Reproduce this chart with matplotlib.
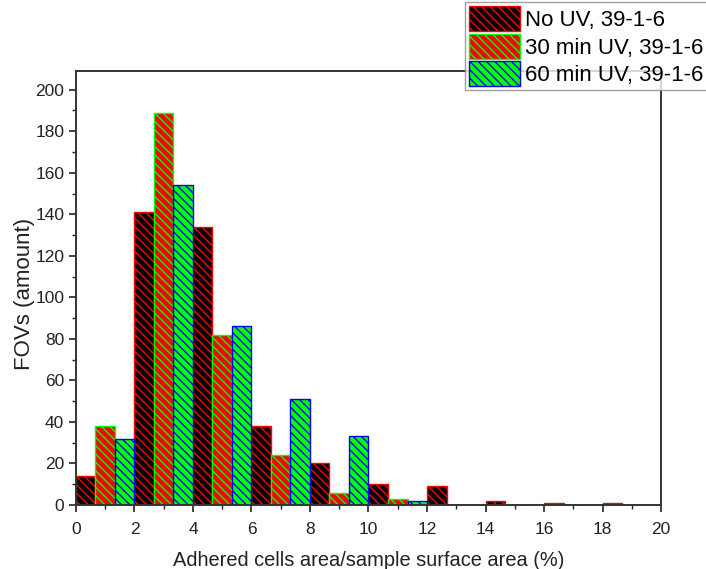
import matplotlib
matplotlib.use("Agg")
import matplotlib.pyplot as plt
import numpy as np
from matplotlib.ticker import MultipleLocator

plt.rcParams['font.family'] = ['Liberation Sans', 'DejaVu Sans']
plt.rcParams['hatch.linewidth'] = 1.0

bin_starts = [0, 2, 4, 6, 8, 10, 12, 14, 16, 18]
no_uv = [14, 141, 134, 38, 20, 10, 9, 2, 1, 1]
uv30 = [38, 189, 82, 24, 6, 3, 0, 0, 0, 0]
uv60 = [32, 154, 86, 51, 33, 2, 0, 0, 0, 0]
labels = ['No UV, 39-1-6', '30 min UV, 39-1-6', '60 min UV, 39-1-6']
faces = ['black', 'red', '#00ff00']
edges = ['red', '#00ff00', 'blue']

fig = plt.figure(figsize=(7.06, 5.69), dpi=100)
ax = fig.add_axes([0.1076, 0.1125, 0.8287, 0.7627])

w = 2/3
x = np.array(bin_starts, dtype=float)
handles = []
for i, (vals, fc, ec, lab) in enumerate(zip([no_uv, uv30, uv60], faces, edges, labels)):
    h = ax.bar(x + i*w, vals, width=w, align='edge', facecolor=fc, edgecolor=ec,
               hatch='\\\\\\\\', linewidth=1.0, label=lab)
    handles.append(h)

ax.set_xlim(0, 20)
ax.set_ylim(0, 209)
ax.xaxis.set_major_locator(MultipleLocator(2))
ax.xaxis.set_minor_locator(MultipleLocator(1))
ax.yaxis.set_major_locator(MultipleLocator(20))
ax.yaxis.set_minor_locator(MultipleLocator(10))
ax.tick_params(which='both', direction='out', top=False, right=False, labelsize=12.5, colors='#222222')
ax.tick_params(axis='x', which='major', pad=7)
ax.tick_params(which='major', length=5, width=1.2)
ax.tick_params(which='minor', length=3, width=1.0)
for s in ax.spines.values():
    s.set_linewidth(1.4)
    s.set_color('#333333')

ax.set_xlabel('Adhered cells area/sample surface area (%)', fontsize=14.4, color='#222222', labelpad=10)
ax.set_ylabel('FOVs (amount)', fontsize=16, color='#222222')
ax.yaxis.set_label_coords(-0.070, 0.487)

leg = fig.legend(handles=handles, labels=labels, loc='upper left', bbox_to_anchor=(0.659, 0.996),
                 fontsize=16, frameon=True, fancybox=False, edgecolor='#888888',
                 handlelength=2.3, handleheight=1.35, handletextpad=0.2, labelspacing=0.12,
                 borderpad=0.18, borderaxespad=0)
leg.get_frame().set_linewidth(1.0)

fig.savefig('out.png', dpi=100)
